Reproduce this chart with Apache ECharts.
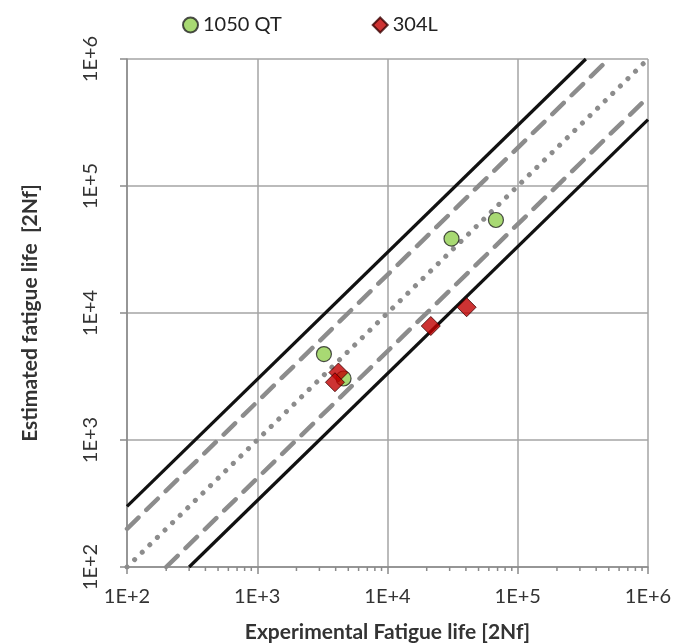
<!DOCTYPE html>
<html><head><meta charset="utf-8">
<script src="https://cdn.jsdelivr.net/npm/echarts@6/dist/echarts.min.js"></script>
<style>html,body{margin:0;padding:0;background:#fff}#c{width:675px;height:644px}</style>
</head><body><div id="c"></div>
<script>
// Data
const seriesNames = ['1050 QT', '304L'];
const qt1050 = [[3250, 4750], [4600, 3050], [31000, 38500], [68000, 54000]];
const l304 = [[4200, 3400], [3950, 2850], [21500, 7900], [40500, 11100]];
const axisMin = 100, axisMax = 1e6;
const bandSolid = 3;   // factor-of-3 scatter band
const bandDash = 2;    // factor-of-2 scatter band
const minorTickValues = [];
[100, 1000, 10000, 100000].forEach(d => { for (let k = 2; k <= 9; k++) minorTickValues.push(d * k); });

function bandLine(f) {
  return [[axisMin, axisMin * f], [axisMax / f, axisMax]];
}
function bandLineLow(f) {
  return [[axisMin * f, axisMin], [axisMax, axisMax / f]];
}

const font = 'Lato, "Open Sans", sans-serif';
const chart = echarts.init(document.getElementById('c'));
chart.setOption({
  animation: false,
  backgroundColor: '#fff',
  textStyle: { fontFamily: font },
  legend: {
    top: 10, left: 177,
    itemGap: 90, itemWidth: 15, itemHeight: 15,
    textStyle: { fontSize: 20, color: '#222', fontFamily: font },
    data: [
      { name: seriesNames[0], icon: 'circle' },
      { name: seriesNames[1], icon: 'diamond' }
    ]
  },
  grid: { left: 127, right: 27, top: 59, bottom: 77, outerBoundsMode: 'none', containLabel: false },
  xAxis: {
    type: 'log', logBase: 10, min: axisMin, max: axisMax,
    name: 'Experimental Fatigue life [2Nf]', nameLocation: 'middle', nameGap: 55,
    nameTextStyle: { fontSize: 21, fontWeight: 'bold', color: '#333', fontFamily: font },
    axisLine: { lineStyle: { color: '#8a8a8a', width: 1.5 } },
    axisTick: { show: true, length: 7, lineStyle: { color: '#8a8a8a', width: 1.5 } },
    axisLabel: { fontSize: 20, color: '#333', margin: 20, formatter: v => '1E+' + Math.round(Math.log10(v)) },
    splitLine: { show: true, lineStyle: { color: '#a5a5a5', width: 1.5 } }
  },
  yAxis: {
    type: 'log', logBase: 10, min: axisMin, max: axisMax,
    name: 'Estimated fatigue life  [2Nf]', nameLocation: 'middle', nameGap: 86,
    nameTextStyle: { fontSize: 21, fontWeight: 'bold', color: '#333', fontFamily: font },
    axisLine: { show: true, lineStyle: { color: '#8a8a8a', width: 1.5 } },
    axisTick: { show: true, length: 7, lineStyle: { color: '#8a8a8a', width: 1.5 } },
    axisLabel: { fontSize: 20, color: '#333', rotate: 90, margin: 26, formatter: v => '1E+' + Math.round(Math.log10(v)) },
    splitLine: { show: true, lineStyle: { color: '#a5a5a5', width: 1.5 } }
  },
  series: [
    {
      type: 'custom', silent: true, clip: false, z: 1,
      data: minorTickValues,
      renderItem: (params, api) => {
        const p = api.coord([api.value(0), axisMin]);
        return { type: 'line', shape: { x1: p[0], y1: p[1], x2: p[0], y2: p[1] + 4 }, style: { stroke: '#8a8a8a', lineWidth: 1.5 } };
      },
      encode: { x: 0 }
    },
    { type: 'line', data: bandLine(bandSolid), symbol: 'none', silent: true, lineStyle: { color: '#111', width: 3.2 }, z: 2 },
    { type: 'line', data: bandLineLow(bandSolid), symbol: 'none', silent: true, lineStyle: { color: '#111', width: 3.2 }, z: 2 },
    { type: 'line', data: bandLine(bandDash), symbol: 'none', silent: true, lineStyle: { color: '#8c8c8c', width: 4.5, type: [16, 11], cap: 'round' }, z: 2 },
    { type: 'line', data: bandLineLow(bandDash), symbol: 'none', silent: true, lineStyle: { color: '#8c8c8c', width: 4.5, type: [16, 11], cap: 'round' }, z: 2 },
    { type: 'line', data: bandLine(1), symbol: 'none', silent: true, lineStyle: { color: '#8c8c8c', width: 5, type: [0.1, 10.5], cap: 'round' }, z: 2 },
    {
      name: seriesNames[0], type: 'scatter', data: qt1050, symbol: 'circle', symbolSize: 15, z: 5,
      itemStyle: { color: '#92d050', borderColor: '#222', borderWidth: 1.2 }
    },
    {
      name: seriesNames[1], type: 'scatter', data: l304, symbol: 'diamond', symbolSize: 19, z: 6,
      itemStyle: { color: '#c00000', borderColor: '#3a0000', borderWidth: 1 }
    }
  ]
});
</script></body></html>
